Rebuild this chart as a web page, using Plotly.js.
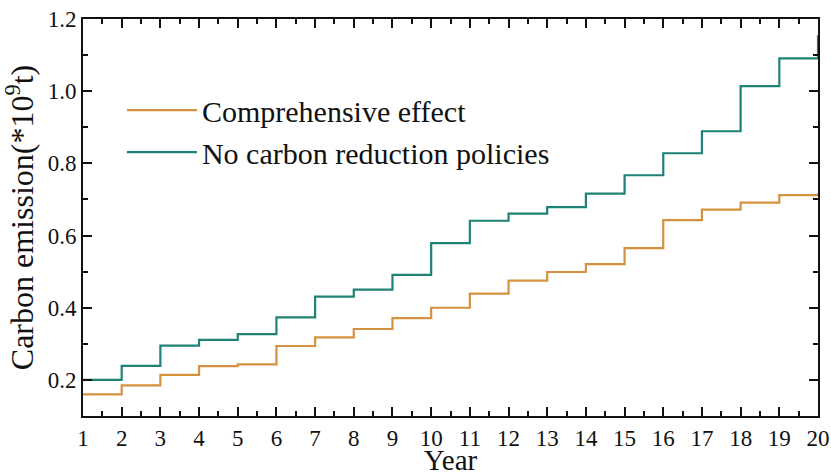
<!DOCTYPE html>
<html>
<head>
<meta charset="utf-8">
<script src="https://cdn.plot.ly/plotly-3.0.1.min.js"></script>
<style>
  html, body { margin: 0; padding: 0; background: #fff; }
  #chart { width: 831px; height: 476px; }
</style>
</head>
<body>
<div id="chart"></div>
<script>
// Annual carbon emission (10^9 t) under two scenarios, drawn as step lines
const years = [1, 2, 3, 4, 5, 6, 7, 8, 9, 10, 11, 12, 13, 14, 15, 16, 17, 18, 19, 20];
const comprehensive = [0.160, 0.185, 0.214, 0.238, 0.243, 0.294, 0.318, 0.341, 0.371, 0.400,
                       0.439, 0.475, 0.499, 0.521, 0.565, 0.643, 0.672, 0.691, 0.712, 0.718];
const noPolicy = [0.200, 0.239, 0.295, 0.311, 0.327, 0.373, 0.431, 0.450, 0.491, 0.579,
                  0.641, 0.661, 0.679, 0.716, 0.767, 0.828, 0.889, 1.014, 1.091, 1.155];
const seriesNames = ['Comprehensive effect', 'No carbon reduction policies'];
const yTicks = [0.2, 0.4, 0.6, 0.8, 1.0, 1.2];
const yTickText = ['0.2', '0.4', '0.6', '0.8', '1.0', '1.2'];

const serif = 'Liberation Serif';

const traces = [
  { x: years, y: comprehensive, name: seriesNames[0], type: 'scatter', mode: 'lines',
    line: { shape: 'hv', color: '#D4913F', width: 2.2 } },
  { x: years, y: noPolicy, name: seriesNames[1], type: 'scatter', mode: 'lines',
    line: { shape: 'hv', color: '#1F8276', width: 2.2 } }
];

// Boxed axes with inward major and minor ticks on all four sides
const axisCommon = {
  showline: true, linecolor: '#111', linewidth: 2,
  mirror: 'ticks',
  ticks: 'inside', ticklen: 9, tickwidth: 2, tickcolor: '#111',
  showgrid: false, zeroline: false,
  tickfont: { family: serif, size: 23, color: '#111' }
};

const layout = {
  width: 831, height: 476,
  margin: { l: 83, r: 13, t: 19, b: 60 },
  paper_bgcolor: '#fff', plot_bgcolor: '#fff',
  font: { family: serif, color: '#111' },
  showlegend: true,
  legend: {
    x: 0.053, y: 0.836, xanchor: 'left', yanchor: 'top',
    bgcolor: 'rgba(0,0,0,0)', borderwidth: 0,
    font: { family: serif, size: 30, color: '#111' },
    itemwidth: 70, tracegroupgap: 0
  },
  xaxis: Object.assign({}, axisCommon, {
    range: [1, 20], tickmode: 'linear', tick0: 1, dtick: 1,
    minor: { ticks: 'inside', ticklen: 5, tickwidth: 2, tickcolor: '#111', dtick: 0.5, tick0: 1 },
    title: { text: 'Year', font: { family: serif, size: 29, color: '#111' }, standoff: 2 }
  }),
  yaxis: Object.assign({}, axisCommon, {
    range: [0.1, 1.2], tickmode: 'array', tickvals: yTicks, ticktext: yTickText,
    minor: { ticks: 'inside', ticklen: 5, tickwidth: 2, tickcolor: '#111', dtick: 0.1, tick0: 0.1 },
    title: { text: 'Carbon emission(*10<sup>9</sup>t)', font: { family: serif, size: 32, color: '#111' }, standoff: 6 }
  })
};

Plotly.newPlot('chart', traces, layout, { staticPlot: true, displayModeBar: false });
</script>
</body>
</html>
